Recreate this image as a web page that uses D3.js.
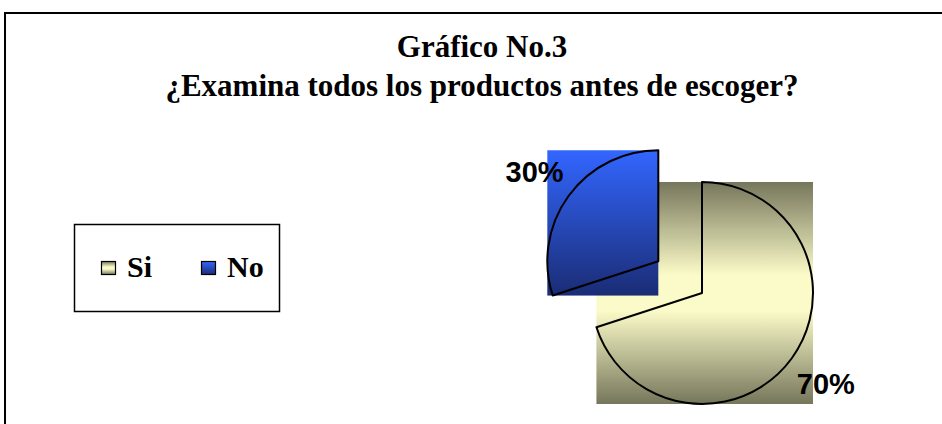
<!DOCTYPE html>
<html><head><meta charset="utf-8">
<script src="https://cdn.jsdelivr.net/npm/d3@7/dist/d3.min.js"></script>
<style>html,body{margin:0;padding:0;background:#fff;overflow:hidden}</style>
</head><body>
<script>
const categories = ["Si", "No"];
const values = [70, 30];
const pctLabels = ["70%", "30%"];
const titleLines = ["Gráfico No.3", "¿Examina todos los productos antes de escoger?"];

const W = 942, H = 424;
const svg = d3.select("body").append("svg").attr("width", W).attr("height", H);
const defs = svg.append("defs");

function vgrad(id, stops) {
  const g = defs.append("linearGradient").attr("id", id)
    .attr("x1", 0).attr("y1", 0).attr("x2", 0).attr("y2", 1);
  stops.forEach(s => g.append("stop").attr("offset", s[0]).attr("stop-color", s[1]));
}
vgrad("gSi", [[0, "#76765b"], [0.42, "#fbfbc9"], [0.58, "#fbfbc9"], [1, "#76765b"]]);
vgrad("gNo", [[0, "#3366ff"], [1, "#1a2c74"]]);
const fills = ["url(#gSi)", "url(#gNo)"];

// outer frame
svg.append("rect").attr("x", 5).attr("y", 13).attr("width", 1000).attr("height", 600)
  .attr("fill", "none").attr("stroke", "#000").attr("stroke-width", 2);

// title
const title = svg.append("text").attr("text-anchor", "middle")
  .attr("font-family", "'Liberation Serif','Times New Roman',serif")
  .attr("font-weight", "bold").attr("font-size", 31);
title.append("tspan").attr("x", 482).attr("y", 57).text(titleLines[0]);
title.append("tspan").attr("x", 482).attr("y", 96).text(titleLines[1]);

// pie
const cx = 702, cy = 293, R = 111, explode = [0, 54];
const pie = d3.pie().sort(null).value(d => d).startAngle(0).endAngle(2 * Math.PI);
const arc = d3.arc().innerRadius(0).outerRadius(R);
const arcs = pie(values);
const gp = svg.append("g").attr("transform", `translate(${cx},${cy})`);

arcs.forEach((a, i) => {
  const mid = (a.startAngle + a.endAngle) / 2;
  const dx = Math.sin(mid) * explode[i], dy = -Math.cos(mid) * explode[i];
  const g = gp.append("g").attr("transform", `translate(${dx},${dy})`);
  const path = g.append("path").attr("d", arc(a)).attr("fill", "none");
  const bb = path.node().getBBox();
  g.insert("rect", "path").attr("x", bb.x).attr("y", bb.y)
    .attr("width", bb.width).attr("height", bb.height).attr("fill", fills[i]);
  path.attr("stroke", "#000").attr("stroke-width", 2).attr("stroke-linejoin", "round");
  const lr = 153;
  g.append("text").attr("x", Math.sin(mid) * lr).attr("y", -Math.cos(mid) * lr + 11)
    .attr("text-anchor", "middle")
    .attr("font-family", "'Liberation Sans',Arial,sans-serif")
    .attr("font-weight", "bold").attr("font-size", 29)
    .text(pctLabels[i]);
});

// legend
const lg = svg.append("g");
lg.append("rect").attr("x", 74.5).attr("y", 224.5).attr("width", 205).attr("height", 87)
  .attr("fill", "#fff").attr("stroke", "#000").attr("stroke-width", 1.5);
const legX = [101, 201];
categories.forEach((c, i) => {
  lg.append("rect").attr("x", legX[i] + 0.5).attr("y", 261.5).attr("width", 14).attr("height", 13)
    .attr("fill", fills[i]).attr("stroke", "#000").attr("stroke-width", 1.2);
  lg.append("text").attr("x", legX[i] + 26).attr("y", 277)
    .attr("font-family", "'Liberation Serif','Times New Roman',serif")
    .attr("font-weight", "bold").attr("font-size", 30).text(c);
});
</script>
</body></html>
